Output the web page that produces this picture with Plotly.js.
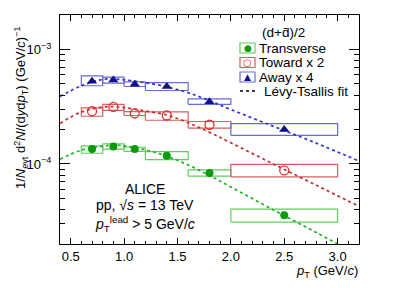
<!DOCTYPE html>
<html><head><meta charset="utf-8">
<script src="https://cdn.plot.ly/plotly-3.0.1.min.js"></script>
<style>html,body{margin:0;padding:0;background:#fff}#chart{width:399px;height:288px}</style>
</head><body><div id="chart"></div>
<script>
// pT bins (GeV/c)
const ptPoints = [0.7, 0.9, 1.1, 1.4, 1.8, 2.5];
const binLo    = [0.6, 0.8, 1.0, 1.2, 1.6, 2.0];
const binHi    = [0.8, 1.0, 1.2, 1.6, 2.0, 3.0];

// Transverse
const transVal   = [1.35e-4, 1.42e-4, 1.35e-4, 1.18e-4, 8.32e-5, 3.57e-5];
const transSysHi = [1.44e-4, 1.50e-4, 1.40e-4, 1.28e-4, 8.88e-5, 4.03e-5];
const transSysLo = [1.24e-4, 1.35e-4, 1.29e-4, 1.09e-4, 7.83e-5, 3.11e-5];
// Toward x 2
const towVal   = [2.89e-4, 3.15e-4, 2.76e-4, 2.65e-4, 2.20e-4, 8.79e-5];
const towSysHi = [3.09e-4, 3.32e-4, 2.87e-4, 2.85e-4, 2.35e-4, 9.93e-5];
const towSysLo = [2.61e-4, 2.94e-4, 2.65e-4, 2.41e-4, 2.06e-4, 7.72e-5];
// Away x 4
const awayVal   = [5.28e-4, 5.40e-4, 4.98e-4, 4.75e-4, 3.50e-4, 2.00e-4];
const awaySysHi = [5.88e-4, 5.73e-4, 5.21e-4, 5.14e-4, 3.70e-4, 2.25e-4];
const awaySysLo = [4.82e-4, 5.08e-4, 4.75e-4, 4.38e-4, 3.32e-4, 1.78e-4];

// Levy-Tsallis fit curves
const fitPt    = [0.4, 0.6, 0.8, 0.9, 1.0, 1.2, 1.4, 1.6, 1.8, 2.0, 2.4, 2.8, 3.2];
const fitTrans = [1.10e-4, 1.32e-4, 1.43e-4, 1.46e-4, 1.44e-4, 1.33e-4, 1.17e-4, 9.8e-5, 7.93e-5, 6.30e-5, 3.96e-5, 2.52e-5, 1.58e-5];
const fitTow   = [2.26e-4, 2.84e-4, 3.14e-4, 3.17e-4, 3.11e-4, 2.90e-4, 2.68e-4, 2.29e-4, 1.89e-4, 1.53e-4, 9.97e-5, 6.52e-5, 4.27e-5];
const fitAway  = [3.89e-4, 4.82e-4, 5.48e-4, 5.53e-4, 5.43e-4, 5.12e-4, 4.72e-4, 4.19e-4, 3.57e-4, 2.99e-4, 2.13e-4, 1.52e-4, 1.06e-4];

const xTickVals = [0.5, 1.0, 1.5, 2.0, 2.5, 3.0];
const xTickText = ['0.5', '1.0', '1.5', '2.0', '2.5', '3.0'];
const yTickVals = [1e-4, 1e-3];
const yTickText = ['10<sup>\u22124</sup>', '10<sup>\u22123</sup>'];

const FONT = 'Liberation Sans, Arial, sans-serif';

function boxTrace(lo, hi, color) {
  const x = [], y = [];
  for (let i = 0; i < ptPoints.length; i++) {
    x.push(binLo[i], binHi[i], binHi[i], binLo[i], binLo[i], null);
    y.push(lo[i], lo[i], hi[i], hi[i], lo[i], null);
  }
  return {x, y, mode: 'lines', line: {color, width: 1.2}, showlegend: false, hoverinfo: 'skip', connectgaps: false};
}
function fitTrace(vals, color) {
  return {x: fitPt, y: vals, mode: 'lines', line: {color, width: 1.7, dash: 'dot', shape: 'spline', smoothing: 1}, showlegend: false, hoverinfo: 'skip'};
}

const cGreen = '#0a9a0a', cGreenBox = '#5fcf5f', cGreenFit = '#22b022';
const cRed = '#e03030', cRedBox = '#d46060', cRedFit = '#c03030';
const cBlue = '#10108c', cBlueBox = '#6a6ad8', cBlueFit = '#3535d0';

const traces = [
  boxTrace(transSysLo, transSysHi, cGreenBox),
  boxTrace(towSysLo, towSysHi, cRedBox),
  boxTrace(awaySysLo, awaySysHi, cBlueBox),
  fitTrace(fitTrans, cGreenFit),
  fitTrace(fitTow, cRedFit),
  fitTrace(fitAway, cBlueFit),
  {x: ptPoints, y: transVal, mode: 'markers', marker: {symbol: 'circle', size: 8, color: cGreen}, showlegend: false},
  {x: ptPoints, y: towVal, mode: 'markers', marker: {symbol: 'circle-open', size: 9, color: cRed, line: {width: 1.3}}, showlegend: false},
  {x: ptPoints, y: awayVal, mode: 'markers', marker: {symbol: 'triangle-up', size: 9, color: cBlue}, showlegend: false}
];

// layout helpers: pixel -> paper (plot area x 60..359, y 15..244)
const px = v => (v - 60) / 299;
const py = v => (244 - v) / 229;

const legRows = [48, 62.5, 77];
const legShapes = [
  {type: 'rect', xref: 'paper', yref: 'paper', x0: px(240), x1: px(255), y0: py(legRows[0] + 5), y1: py(legRows[0] - 5), line: {color: cGreenBox, width: 1.2}},
  {type: 'rect', xref: 'paper', yref: 'paper', x0: px(240), x1: px(255), y0: py(legRows[1] + 5), y1: py(legRows[1] - 5), line: {color: cRedBox, width: 1.2}},
  {type: 'rect', xref: 'paper', yref: 'paper', x0: px(240), x1: px(255), y0: py(legRows[2] + 5), y1: py(legRows[2] - 5), line: {color: cBlueBox, width: 1.2}},
  {type: 'line', xref: 'paper', yref: 'paper', x0: px(240), x1: px(255), y0: py(91), y1: py(91), line: {color: '#000', width: 1.5, dash: 'dot'}}
];

const ann = (text, x, y, opts) => Object.assign({text, x: px(x), y: py(y), xref: 'paper', yref: 'paper', showarrow: false, font: {family: FONT, size: 14, color: '#000'}}, opts || {});
const legFont = {family: FONT, size: 13.5, color: '#000'};

const annotations = [
  ann('(d+d\u0304)/2', 260, 33, {xanchor: 'left', yanchor: 'middle', font: legFont}),
  ann('Transverse', 257, legRows[0], {xanchor: 'left', yanchor: 'middle', font: legFont}),
  ann('Toward x 2', 257, legRows[1], {xanchor: 'left', yanchor: 'middle', font: legFont}),
  ann('Away x 4', 257, legRows[2], {xanchor: 'left', yanchor: 'middle', font: legFont}),
  ann('L\u00e9vy-Tsallis fit', 262, 91, {xanchor: 'left', yanchor: 'middle', font: legFont}),
  ann('\u25CF', 247.5, legRows[0], {xanchor: 'center', yanchor: 'middle', font: {family: 'DejaVu Sans', size: 9, color: cGreen}}),
  ann('\u25CB', 247.5, legRows[1], {xanchor: 'center', yanchor: 'middle', font: {family: 'DejaVu Sans', size: 10, color: cRed}}),
  ann('\u25B2', 247.5, legRows[2], {xanchor: 'center', yanchor: 'middle', font: {family: 'DejaVu Sans', size: 9, color: cBlue}}),
  ann('ALICE', 145, 189, {xanchor: 'center', yanchor: 'middle'}),
  ann('pp, \u221A<i>s</i> = 13 TeV', 145, 205, {xanchor: 'center', yanchor: 'middle'}),
  ann('<i>p</i><sub>T</sub><sup>lead</sup> > 5 GeV/<i>c</i>', 145, 224, {xanchor: 'center', yanchor: 'middle'}),
  ann('<i>p</i><sub>T</sub> (GeV/<i>c</i>)', 360, 271, {xanchor: 'right', yanchor: 'middle', font: {family: FONT, size: 13, color: '#000'}}),
  ann('1/<i>N</i><sub>evt</sub> d<sup>2</sup><i>N</i>/(d<i>y</i>d<i>p</i><sub>T</sub>) (GeV/<i>c</i>)<sup>\u22121</sup>', 21, 108, {xanchor: 'center', yanchor: 'middle', textangle: -90, font: {family: FONT, size: 13, color: '#000'}})
];

const yMinor = [];
[1e-5, 1e-4, 1e-3].forEach(d => { for (let k = 2; k <= 9; k++) yMinor.push(k * d); });

const layout = {
  width: 399, height: 288,
  margin: {l: 60, r: 40, t: 15, b: 44},
  paper_bgcolor: '#fff', plot_bgcolor: '#fff',
  showlegend: false,
  font: {family: FONT, size: 13, color: '#000'},
  xaxis: {
    range: [0.4, 3.2], showgrid: false, zeroline: false,
    showline: true, linecolor: '#000', linewidth: 1, mirror: 'allticks',
    ticks: 'inside', ticklen: 6, tickwidth: 1, tickcolor: '#000',
    tickmode: 'array', tickvals: xTickVals, ticktext: xTickText,
    tickfont: {family: FONT, size: 13},
    minor: {dtick: 0.1, ticklen: 3, tickcolor: '#000', showgrid: false, ticks: 'inside'}
  },
  yaxis: {
    type: 'log', range: [Math.log10(2e-5), Math.log10(2e-3)], showgrid: false, zeroline: false,
    showline: true, linecolor: '#000', linewidth: 1, mirror: 'allticks',
    ticks: 'inside', ticklen: 10, tickwidth: 1, tickcolor: '#000',
    tickmode: 'array', tickvals: yTickVals, ticktext: yTickText,
    tickfont: {family: FONT, size: 13},
    ticklabelstandoff: 5,
    minor: {tickmode: 'array', tickvals: yMinor, ticklen: 5, tickcolor: '#000', showgrid: false, ticks: 'inside'}
  },
  shapes: legShapes,
  annotations: annotations
};

Plotly.newPlot('chart', traces, layout, {staticPlot: true, displayModeBar: false});
</script></body></html>
